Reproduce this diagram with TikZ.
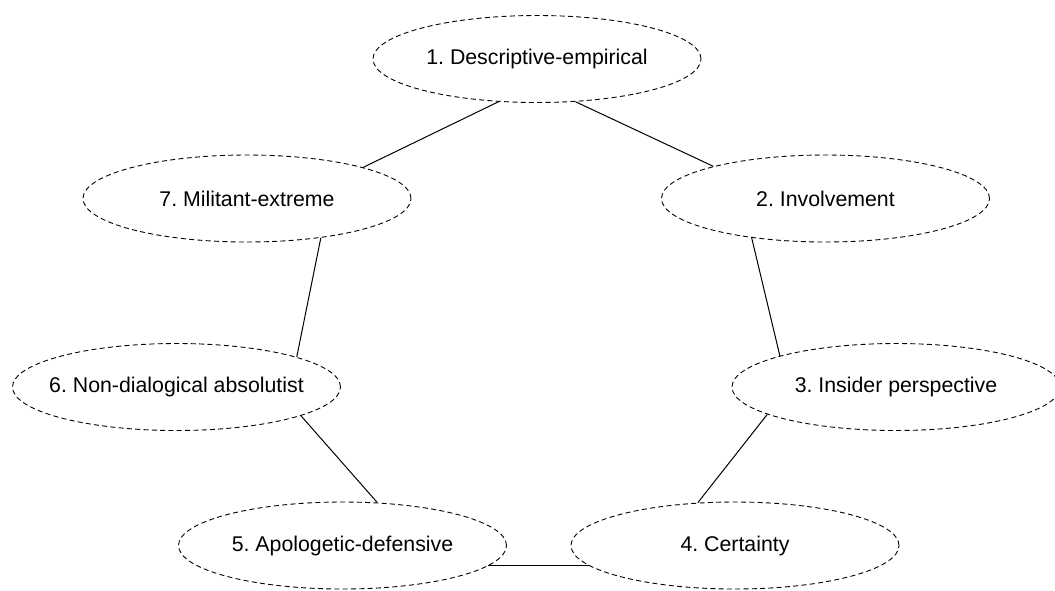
\documentclass[tikz,border=0pt]{standalone}
\usepackage{fontspec}
\setmainfont{Liberation Sans}
\usetikzlibrary{shapes.geometric}
\frenchspacing
% every stage ellipse has the same fixed size, whatever its label's width
\newcommand{\stagelabel}[1]{\makebox[0pt][c]{#1}}
\begin{document}
\begin{tikzpicture}[x=1pt,y=-1pt,
  stage/.style={ellipse,draw=black,line width=0.9pt,dash pattern=on 5pt off 3.3pt,
    minimum width=328pt,minimum height=87pt,inner sep=0pt,
    font=\fontsize{21.3}{25}\selectfont},
  link/.style={draw=black,line width=1pt}]
\useasboundingbox (0,0) rectangle (1055,590);
\node[stage] (n1) at (537,59)      {\stagelabel{1. Descriptive-empirical}};
\node[stage] (n2) at (825.5,198.5) {\stagelabel{2. Involvement}};
\node[stage] (n3) at (896,387)     {\stagelabel{3. Insider perspective}};
\node[stage] (n4) at (735,545.5)   {\stagelabel{4. Certainty}};
\node[stage] (n5) at (342.5,545.5) {\stagelabel{5. Apologetic-defensive}};
\node[stage] (n6) at (176.5,387)   {\stagelabel{6. Non-dialogical absolutist}};
\node[stage] (n7) at (247,198.5)   {\stagelabel{7. Militant-extreme}};
\path[link] (n1.228) -- (n7.15.4);
\path[link] (n1.312) -- (n2.164.5);
\path[link] (n2.208.5) -- (n3.165.8);
\path[link] (n7.332) -- (n6.14);
\path[link] (n6.347) -- (n5.51);
\path[link] (n3.192.8) -- (n4.131.7);
\path[link] (n5.352) -- (n4.188);
\end{tikzpicture}
\end{document}
